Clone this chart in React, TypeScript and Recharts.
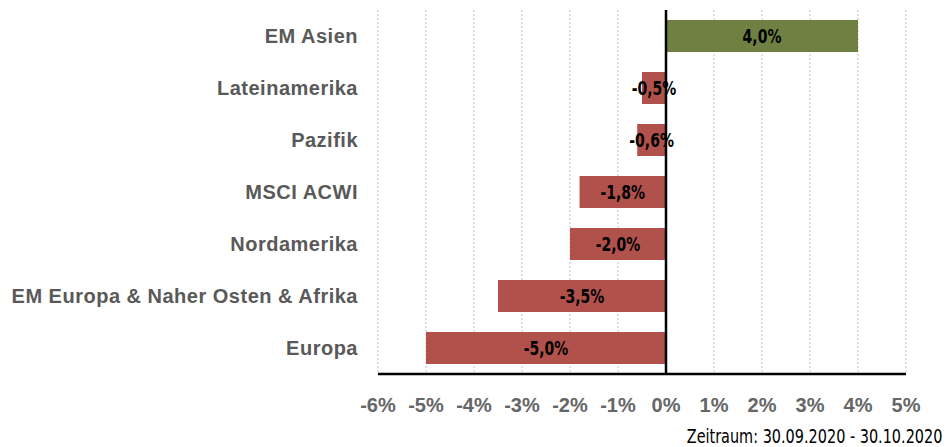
import React from "react";
import { BarChart, Bar, XAxis, YAxis, CartesianGrid, ReferenceLine, LabelList, Cell } from "recharts";

const categories = [
  "EM Asien",
  "Lateinamerika",
  "Pazifik",
  "MSCI ACWI",
  "Nordamerika",
  "EM Europa & Naher Osten & Afrika",
  "Europa",
];
const values = [4.0, -0.5, -0.6, -1.8, -2.0, -3.5, -5.0];
const xTicks = [-6, -5, -4, -3, -2, -1, 0, 1, 2, 3, 4, 5];
const footer = "Zeitraum: 30.09.2020 - 30.10.2020";

const data = categories.map((name, i) => ({ name, value: values[i] }));

const POS = "#6f8043";
const NEG = "#b0514c";

const fmt = (v: number) => v.toFixed(1).replace(".", ",") + "%";

const BarLabel = (props: any) => {
  const { x, y, width, height, value } = props;
  const cx = Number(x) + Number(width) / 2;
  const cy = Number(y) + Number(height) / 2;
  return (
    <text
      transform={`translate(${cx},${cy}) scale(0.7,1)`}
      textAnchor="middle"
      dominantBaseline="central"
      fill="#000"
      fontSize={20}
      fontWeight="bold"
      fontFamily="DejaVu Sans, sans-serif"
    >
      {fmt(Number(value))}
    </text>
  );
};

export default function App() {
  return (
    <div style={{ position: "absolute", left: 0, top: 0, width: 949, height: 447, background: "#fff" }}>
      <BarChart
        width={949}
        height={447}
        data={data}
        layout="vertical"
        margin={{ top: 10, right: 43, left: 0, bottom: 33 }}
      >
        <CartesianGrid horizontal={false} stroke="#d2bfaa" strokeDasharray="2 2" />
        <XAxis
          type="number"
          domain={[-6, 5]}
          ticks={xTicks}
          interval={0}
          tickFormatter={(v: number) => `${v}%`}
          tick={{ fill: "#666666", fontSize: 20, fontWeight: "bold", fontFamily: "Liberation Sans, Arial, sans-serif" }}
          tickLine={false}
          axisLine={{ stroke: "#000", strokeWidth: 2.5 }}
          tickMargin={18}
          height={40}
        />
        <YAxis
          type="category"
          dataKey="name"
          width={378}
          tickLine={false}
          axisLine={false}
          tickMargin={14}
          interval={0}
          tick={{ fill: "#595959", fontSize: 20, fontWeight: "bold", letterSpacing: 0.5, fontFamily: "Liberation Sans, Arial, sans-serif" }}
        />
        <ReferenceLine x={0} stroke="#000" strokeWidth={2.5} />
        <Bar dataKey="value" barSize={32} isAnimationActive={false}>
          {data.map((d, i) => (
            <Cell key={i} fill={d.value >= 0 ? POS : NEG} />
          ))}
          <LabelList dataKey="value" content={BarLabel} />
        </Bar>
      </BarChart>
      <div
        style={{
          position: "absolute",
          right: 7,
          top: 425,
          fontSize: 19,
          fontFamily: "DejaVu Sans, sans-serif",
          color: "#000",
          whiteSpace: "nowrap",
          transform: "scaleX(0.76)",
          transformOrigin: "right center",
        }}
      >
        {footer}
      </div>
    </div>
  );
}
